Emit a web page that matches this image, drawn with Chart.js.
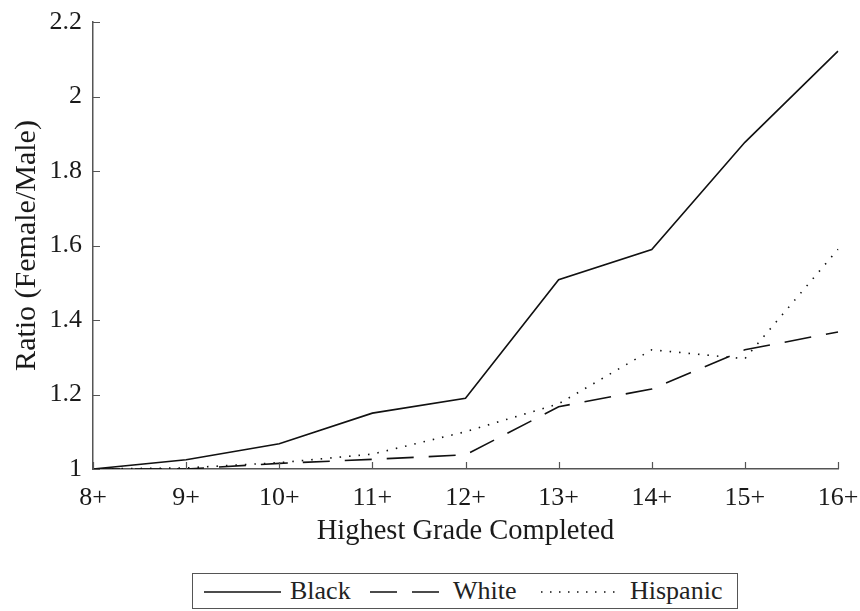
<!DOCTYPE html>
<html>
<head>
<meta charset="utf-8">
<script src="https://cdn.jsdelivr.net/npm/chart.js@4"></script>
<style>
    html, body { margin: 0; padding: 0; background: #fff; }
    #wrap { position: relative; width: 860px; height: 611px; overflow: hidden; }
    #ratioChart { position: absolute; left: 0; top: 0; }
    #legend {
        position: absolute; left: 192px; top: 573px;
        width: 544px; height: 34px;
        border: 1.5px solid #555;
        font-family: 'Liberation Serif', serif; font-size: 26px; color: #222;
    }
    #legend span { position: absolute; top: 0; line-height: 34px; }
    #legend svg { position: absolute; left: 0; top: 0; }
</style>
</head>
<body>
<div id="wrap">
    <canvas id="ratioChart" width="860" height="560"></canvas>
    <div id="legend">
        <svg width="544" height="34">
            <line x1="11" y1="18" x2="88" y2="18" stroke="#111" stroke-width="1.6"/>
            <line x1="177" y1="18" x2="247" y2="18" stroke="#111" stroke-width="1.6" stroke-dasharray="27 15"/>
            <line x1="348" y1="18" x2="424" y2="18" stroke="#111" stroke-width="1.6" stroke-dasharray="1.5 7.5"/>
        </svg>
        <span style="left:97px">Black</span>
        <span style="left:260px">White</span>
        <span style="left:437px">Hispanic</span>
    </div>
</div>
<script>
// --- dados ---
const grades = ['8+', '9+', '10+', '11+', '12+', '13+', '14+', '15+', '16+'];
const black = [1.0, 1.025, 1.068, 1.15, 1.19, 1.508, 1.589, 1.877, 2.122];
const white = [1.0, 1.0, 1.015, 1.026, 1.038, 1.167, 1.215, 1.32, 1.368];
const hispanic = [1.0, 1.003, 1.017, 1.04, 1.1, 1.175, 1.32, 1.296, 1.59];
const yTicks = [1, 1.2, 1.4, 1.6, 1.8, 2, 2.2];

const serif = "'Liberation Serif', 'Times New Roman', serif";
const axisColor = '#555';

// ticks virados para dentro (estilo matlab)
const innerTicks = {
    id: 'innerTicks',
    afterDraw(chart) {
        const { ctx, chartArea, scales } = chart;
        ctx.save();
        ctx.strokeStyle = axisColor;
        ctx.lineWidth = 1.2;
        ctx.beginPath();
        scales.x.ticks.forEach((t, i) => {
            const px = Math.round(scales.x.getPixelForTick(i)) + 0.5;
            ctx.moveTo(px, chartArea.bottom);
            ctx.lineTo(px, chartArea.bottom - 7);
        });
        scales.y.ticks.forEach((t) => {
            const py = Math.round(scales.y.getPixelForValue(t.value)) + 0.5;
            ctx.moveTo(chartArea.left, py);
            ctx.lineTo(chartArea.left + 7, py);
        });
        ctx.stroke();
        ctx.restore();
    }
};

const lineDataset = (label, data, dash) => ({
    label: label,
    data: data,
    borderColor: '#111',
    borderWidth: 1.6,
    borderDash: dash,
    pointRadius: 0,
    tension: 0,
    fill: false
});

new Chart(document.getElementById('ratioChart'), {
    type: 'line',
    data: {
        labels: grades,
        datasets: [
            lineDataset('Black', black, []),
            lineDataset('White', white, [27, 15]),
            lineDataset('Hispanic', hispanic, [1.5, 8])
        ]
    },
    options: {
        responsive: false,
        animation: false,
        layout: { padding: { top: 22, right: 22, left: 0, bottom: 0 } },
        scales: {
            x: {
                offset: false,
                afterFit: (scale) => {
                    scale.height = 91;
                    scale.paddingLeft = 0;
                    scale.paddingRight = 0;
                },
                grid: { display: false, drawTicks: false },
                border: { display: true, color: axisColor, width: 1.5 },
                ticks: {
                    color: '#1a1a1a',
                    font: { family: serif, size: 26 },
                    padding: 14,
                    maxRotation: 0,
                    autoSkip: false
                },
                title: {
                    display: true,
                    text: 'Highest Grade Completed',
                    color: '#1a1a1a',
                    font: { family: serif, size: 28.5 },
                    padding: { top: 0, bottom: 11 }
                }
            },
            y: {
                min: 1,
                max: 2.2,
                afterFit: (scale) => {
                    scale.width = 93;
                    scale.paddingTop = 0;
                    scale.paddingBottom = 0;
                },
                afterBuildTicks: (scale) => { scale.ticks = yTicks.map(v => ({ value: v })); },
                grid: { display: false, drawTicks: false },
                border: { display: true, color: axisColor, width: 1.5 },
                ticks: {
                    color: '#1a1a1a',
                    font: { family: serif, size: 26 },
                    padding: 11,
                    callback: (v) => String(v)
                },
                title: {
                    display: true,
                    text: 'Ratio (Female/Male)',
                    color: '#1a1a1a',
                    font: { family: serif, size: 30 },
                    padding: { top: 9, bottom: 0 }
                }
            }
        },
        plugins: {
            legend: { display: false },
            tooltip: { enabled: false }
        }
    },
    plugins: [innerTicks]
});
</script>
</body>
</html>
